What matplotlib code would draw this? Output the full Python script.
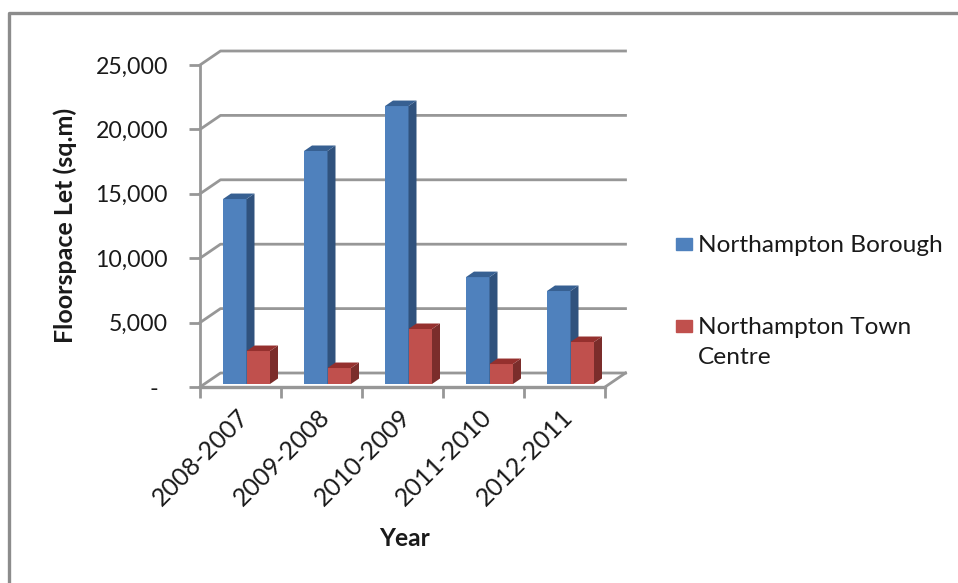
import matplotlib
matplotlib.use('Agg')
import matplotlib.pyplot as plt
from matplotlib.patches import Rectangle
from matplotlib.lines import Line2D

years = ['2008-2007', '2009-2008', '2010-2009', '2011-2010', '2012-2011']
borough = [14360, 18090, 21580, 8300, 7220]
town_centre = [2560, 1240, 4270, 1550, 3260]
y_ticks = [0, 5000, 10000, 15000, 20000, 25000]
y_labels = ['-', '5,000', '10,000', '15,000', '20,000', '25,000']

W, H = 958, 583
plt.rcParams['font.family'] = ['Lato', 'DejaVu Sans']
text_col = '#1a1a1a'
grid_col = '#979797'

fig = plt.figure(figsize=(W / 100, H / 100), dpi=100)
# axes box = front plane of the fake 3d chart, in pixels
ax = fig.add_axes([200 / W, 1 - 387 / H, 405 / W, 322 / H])
ax.set_xlim(0, 5)
ax.set_ylim(0, 25000)
px_x = 5 / 405
px_y = 25000 / 322

# back wall and floor
wall_dx, wall_dy = 20.5 * px_x, 14 * px_y
for t in y_ticks:
    ax.plot([0, wall_dx, 5 + wall_dx], [t, t + wall_dy, t + wall_dy], color=grid_col, lw=2, clip_on=False, zorder=1)
ax.plot([5, 5 + wall_dx], [0, wall_dy], color=grid_col, lw=2, clip_on=False, zorder=1)
ax.plot([0, 5], [0, 0], color=grid_col, lw=2.4, clip_on=False, zorder=1)

# bars with side and top faces
base = 3 * px_y
depth_x, depth_y = 8 * px_x, 5.5 * px_y
bar_w = 23.5 * px_x


def bar3d(x0, value, front, side, top, z):
    x1 = x0 + bar_w
    y1 = base + value
    ax.bar(x0, value, width=bar_w, bottom=base, align='edge', color=front, zorder=z, clip_on=False)
    ax.fill([x1, x1 + depth_x, x1 + depth_x, x1], [base, base + depth_y, y1 + depth_y, y1], color=side, lw=0, zorder=z, clip_on=False)
    ax.fill([x0, x0 + depth_x, x1 + depth_x, x1], [y1, y1 + depth_y, y1 + depth_y, y1], color=top, lw=0, zorder=z, clip_on=False)


for i in range(len(years)):
    left = i + 23 * px_x
    bar3d(left, borough[i], '#4f81bd', '#30527d', '#376092', 3)
    bar3d(left + bar_w, town_centre[i], '#c0504d', '#7b2d2b', '#95302e', 4)

ax.set_xticks(range(6))
ax.set_xticklabels([])
ax.set_yticks(y_ticks)
ax.set_yticklabels(y_labels, fontsize=16.7, color=text_col)
ax.tick_params(axis='y', length=8, width=2, color=grid_col, pad=15)
ax.tick_params(axis='x', length=8, width=2, color=grid_col)
ax.yaxis.get_major_ticks()[0].set_pad(22)  # the dash sits further left
for s in ['top', 'right']:
    ax.spines[s].set_visible(False)
ax.spines['left'].set_color(grid_col)
ax.spines['left'].set_linewidth(2)
ax.spines['bottom'].set_visible(False)

for i, lab in enumerate(years):
    ax.annotate(lab, (i + 0.5, 0), xytext=(-2.5, -13), textcoords='offset points', rotation=45,
                ha='right', va='top', rotation_mode='anchor', fontsize=18, color=text_col)

fig.text(65 / W, 1 - 225 / H, 'Floorspace Let (sq.m)', rotation=90, ha='center', va='center',
         fontsize=18, fontweight='bold', color=text_col)
fig.text(404 / W, 1 - 538 / H, 'Year', ha='center', va='center', fontsize=17.7, fontweight='bold', color=text_col)

# legend
fig.patches.append(Rectangle((676 / W, 1 - 250 / H), 16 / W, 12 / H, transform=fig.transFigure, color='#4f81bd'))
fig.patches.append(Rectangle((676 / W, 1 - 332 / H), 16 / W, 12 / H, transform=fig.transFigure, color='#c0504d'))
fig.text(698 / W, 1 - 246 / H, 'Northampton Borough', va='center', fontsize=17.6, color=text_col)
fig.text(698 / W, 1 - 327 / H, 'Northampton Town', va='center', fontsize=17.6, color=text_col)
fig.text(698 / W, 1 - 358 / H, 'Centre', va='center', fontsize=17.6, color=text_col)

# frame around the chart, cut by the image on the right and bottom
fig.add_artist(Line2D([8.5 / W, 8.5 / W, 1], [0, 1 - 13 / H, 1 - 13 / H], color='#8c8c8c', lw=2.4))

fig.savefig('out.png', dpi=100)
